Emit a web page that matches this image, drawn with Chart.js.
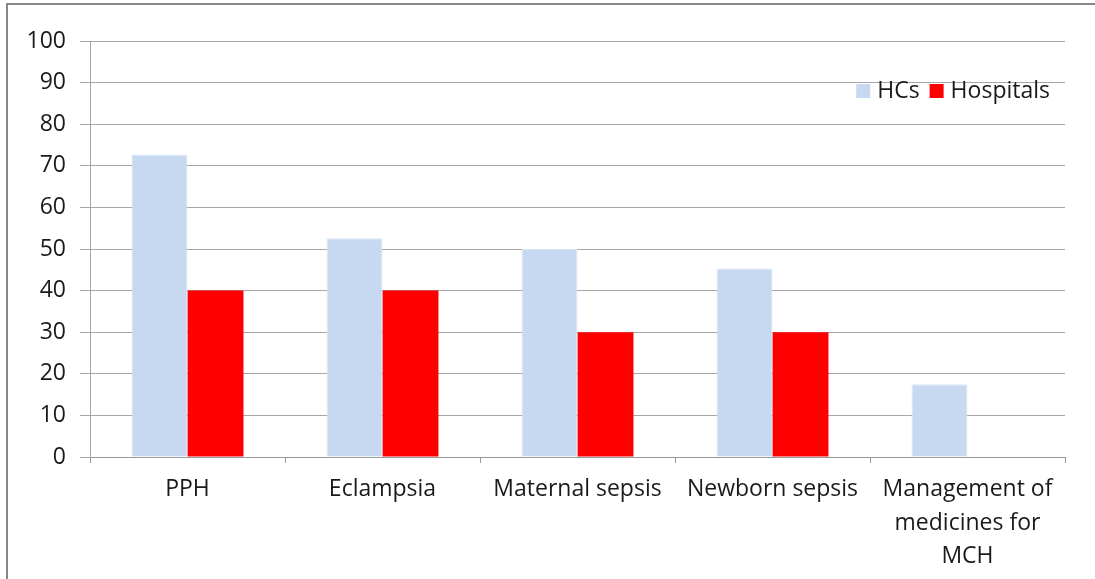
<!DOCTYPE html>
<html>
<head>
<meta charset="utf-8">
<script src="https://cdn.jsdelivr.net/npm/chart.js@4/dist/chart.umd.min.js"></script>
<style>
  html, body { margin: 0; padding: 0; background: #fff; }
  #wrap { width: 1095px; height: 579px; position: relative; }
</style>
</head>
<body>
<div id="wrap"><canvas id="chart"></canvas></div>
<script>
// data
const categories = ["PPH", "Eclampsia", "Maternal sepsis", "Newborn sepsis", ["Management of", "medicines for", "MCH"]];
const hcsValues = [72.7, 52.6, 50, 45.3, 17.5];
const hospitalValues = [40, 40, 30, 30, 0];
const yTicks = [0, 10, 20, 30, 40, 50, 60, 70, 80, 90, 100];

const FONT = "'Open Sans', 'Noto Sans', sans-serif";
const TEXT = "#1a1a1a";

// grey frame round the chart (only left and top are visible)
const framePlugin = {
    id: "frame",
    beforeDraw(chart) {
        const ctx = chart.ctx;
        ctx.save();
        ctx.fillStyle = "#fff";
        ctx.fillRect(0, 0, chart.width, chart.height);
        ctx.strokeStyle = "#878787";
        ctx.lineWidth = 2;
        ctx.beginPath();
        ctx.moveTo(7, chart.height);
        ctx.lineTo(7, 4);
        ctx.lineTo(chart.width, 4);
        ctx.stroke();
        ctx.restore();
    }
};

// legend drawn inside the plot area, top right
const innerLegend = {
    id: "innerLegend",
    afterDraw(chart) {
        const ctx = chart.ctx;
        const area = chart.chartArea;
        const box = 14;
        const gapBoxText = 7;
        const gapItems = 10;
        ctx.save();
        ctx.font = "23px " + FONT;
        ctx.textBaseline = "middle";
        const items = chart.data.datasets.map(ds => ({
            label: ds.label,
            color: ds.backgroundColor,
            w: box + gapBoxText + ctx.measureText(ds.label).width
        }));
        const total = items.reduce((s, it) => s + it.w, 0) + gapItems * (items.length - 1);
        let x = area.right - 15 - total;
        const cy = area.top + 50;
        items.forEach(it => {
            ctx.fillStyle = it.color;
            ctx.fillRect(x, cy - box / 2, box, box);
            ctx.fillStyle = TEXT;
            ctx.fillText(it.label, x + box + gapBoxText, cy);
            x += it.w + gapItems;
        });
        ctx.restore();
    }
};

new Chart(document.getElementById("chart"), {
    type: "bar",
    data: {
        labels: categories,
        datasets: [
            {
                label: "HCs",
                data: hcsValues,
                backgroundColor: "#C6D9F1",
                borderColor: "#DCE6F4",
                borderWidth: 1
            },
            {
                label: "Hospitals",
                data: hospitalValues,
                backgroundColor: "#FF0000",
                borderWidth: 0
            }
        ]
    },
    options: {
        responsive: true,
        maintainAspectRatio: false,
        animation: false,
        devicePixelRatio: 1,
        layout: { padding: { top: 41, right: 30, left: 0, bottom: 0 } },
        datasets: {
            bar: { categoryPercentage: 0.574, barPercentage: 1 }
        },
        plugins: {
            legend: { display: false },
            tooltip: { enabled: false }
        },
        scales: {
            x: {
                offset: true,
                grid: {
                    offset: true,
                    drawOnChartArea: false,
                    drawTicks: true,
                    tickLength: 6,
                    color: "#999"
                },
                border: { color: "#999", width: 1 },
                ticks: {
                    color: TEXT,
                    font: { family: FONT, size: 23, lineHeight: 1.45 },
                    padding: 10,
                    maxRotation: 0,
                    autoSkip: false
                },
                afterFit(scale) { scale.height = 122; }
            },
            y: {
                min: 0,
                max: 100,
                afterBuildTicks(scale) {
                    scale.ticks = yTicks.map(v => ({ value: v }));
                },
                grid: {
                    color: "#A6A6A6",
                    lineWidth: 1,
                    tickLength: 10
                },
                border: { color: "#A6A6A6", width: 1 },
                ticks: {
                    color: TEXT,
                    font: { family: FONT, size: 23 },
                    padding: 14
                },
                afterFit(scale) { scale.width = 90; }
            }
        }
    },
    plugins: [framePlugin, innerLegend]
});
</script>
</body>
</html>
